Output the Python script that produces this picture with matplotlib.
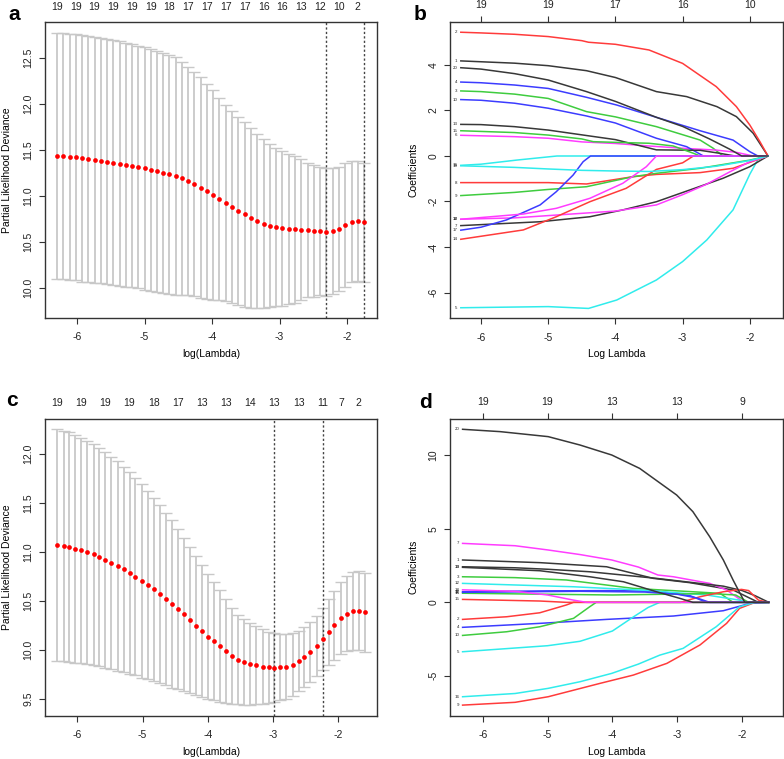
import numpy as np
import matplotlib
matplotlib.use("Agg")
import matplotlib.pyplot as plt

plt.rcParams["font.family"] = ["Liberation Sans", "DejaVu Sans"]
plt.rcParams["axes.unicode_minus"] = False

# ------------------------------------------------------------
#  panel a : cross-validation curve, first cohort
# ------------------------------------------------------------
a_loglam = [-6.30, -6.21, -6.11, -6.02, -5.93, -5.84, -5.74, -5.65, -5.56, -5.46,
            -5.37, -5.28, -5.19, -5.09, -5.00, -4.91, -4.81, -4.72, -4.63, -4.54,
            -4.44, -4.35, -4.26, -4.16, -4.07, -3.98, -3.89, -3.79, -3.70, -3.61,
            -3.51, -3.42, -3.33, -3.23, -3.14, -3.05, -2.96, -2.86, -2.77, -2.68,
            -2.58, -2.49, -2.40, -2.31, -2.21, -2.12, -2.03, -1.93, -1.84, -1.75]
a_cvm = [11.438, 11.435, 11.428, 11.420, 11.409, 11.402, 11.391, 11.384, 11.373, 11.362,
         11.351, 11.341, 11.330, 11.315, 11.301, 11.283, 11.268, 11.254, 11.236, 11.217,
         11.192, 11.163, 11.130, 11.091, 11.051, 11.011, 10.967, 10.924, 10.880, 10.841,
         10.801, 10.761, 10.728, 10.699, 10.678, 10.660, 10.649, 10.641, 10.638, 10.634,
         10.630, 10.623, 10.620, 10.609, 10.620, 10.645, 10.681, 10.721, 10.725, 10.714]
a_cvsd = [1.337, 1.337, 1.336, 1.337, 1.341, 1.337, 1.337, 1.333, 1.334, 1.330,
          1.330, 1.326, 1.322, 1.319, 1.319, 1.318, 1.312, 1.304, 1.300, 1.290,
          1.268, 1.243, 1.221, 1.199, 1.166, 1.138, 1.102, 1.069, 1.048, 1.021,
          1.007, 0.975, 0.946, 0.917, 0.884, 0.858, 0.840, 0.819, 0.797, 0.765,
          0.732, 0.718, 0.695, 0.692, 0.681, 0.674, 0.674, 0.656, 0.652, 0.648]
a_nzero_idx = [0, 3, 6, 9, 12, 15, 18, 21, 24, 27, 30, 33, 36, 39, 42, 45, 48]
a_nzero = ["19", "19", "19", "19", "19", "19", "18", "17", "17", "17", "17",
           "16", "16", "13", "12", "10", "2"]
a_vlines = [-2.31, -1.75]

# ------------------------------------------------------------
#  panel c : cross-validation curve, second cohort
# ------------------------------------------------------------
c_loglam = [-6.31, -6.21, -6.12, -6.03, -5.94, -5.85, -5.75, -5.66, -5.57, -5.48,
            -5.38, -5.29, -5.20, -5.11, -5.01, -4.92, -4.83, -4.74, -4.64, -4.55,
            -4.46, -4.37, -4.27, -4.18, -4.09, -4.00, -3.90, -3.81, -3.72, -3.63,
            -3.53, -3.44, -3.35, -3.26, -3.16, -3.07, -2.98, -2.89, -2.80, -2.70,
            -2.61, -2.52, -2.43, -2.33, -2.24, -2.15, -2.06, -1.96, -1.87, -1.78,
            -1.69, -1.59]
c_cvm = [11.071, 11.061, 11.051, 11.034, 11.017, 10.997, 10.976, 10.949, 10.918, 10.888,
         10.857, 10.823, 10.784, 10.747, 10.704, 10.663, 10.619, 10.571, 10.520, 10.469,
         10.418, 10.364, 10.309, 10.248, 10.194, 10.138, 10.088, 10.041, 9.990, 9.942,
         9.901, 9.874, 9.857, 9.847, 9.830, 9.823, 9.820, 9.823, 9.830, 9.850,
         9.891, 9.932, 9.983, 10.041, 10.109, 10.184, 10.252, 10.323, 10.371, 10.401,
         10.401, 10.384]
c_cvsd = [1.181, 1.177, 1.170, 1.163, 1.150, 1.139, 1.126, 1.112, 1.099, 1.085,
          1.068, 1.048, 1.032, 1.005, 0.986, 0.963, 0.935, 0.909, 0.881, 0.853,
          0.819, 0.782, 0.744, 0.708, 0.672, 0.638, 0.602, 0.571, 0.527, 0.490,
          0.456, 0.439, 0.422, 0.398, 0.384, 0.364, 0.350, 0.337, 0.330, 0.320,
          0.306, 0.306, 0.306, 0.306, 0.316, 0.333, 0.353, 0.367, 0.384, 0.398,
          0.405, 0.405]
c_nzero_idx = [0, 4, 8, 12, 16, 20, 24, 28, 32, 36, 40, 44, 47, 50]
c_nzero = ["19", "19", "19", "19", "18", "17", "13", "13", "14", "13", "13",
           "11", "7", "2"]
c_vlines = [-2.98, -2.24]

# ------------------------------------------------------------
#  panel b : coefficient paths, first cohort  (log lambda, coef)
# ------------------------------------------------------------
b_top_at = [-6, -5, -4, -3, -2]
b_top = ["19", "19", "17", "16", "10"]
b_v2 = [(-6.3, 5.44), (-6.0, 5.41), (-5.5, 5.35), (-5.0, 5.25), (-4.5, 5.07), (-4.4, 5.0),
        (-4.0, 4.91), (-3.5, 4.66), (-3.0, 4.07), (-2.5, 3.05), (-2.2, 2.17), (-2.0, 1.36),
        (-1.85, 0.63), (-1.73, 0.0)]
b_v1 = [(-6.3, 4.18), (-5.5, 4.08), (-5.0, 3.97), (-4.43, 3.75), (-4.0, 3.45), (-3.39, 2.83),
        (-2.94, 2.61), (-2.49, 2.17), (-2.2, 1.73), (-1.95, 1.0), (-1.73, 0.0)]
b_v20 = [(-6.3, 3.88), (-6.0, 3.82), (-5.5, 3.62), (-5.0, 3.34), (-4.43, 2.83), (-4.0, 2.40),
         (-3.39, 1.70), (-3.0, 1.30), (-2.6, 0.75), (-2.3, 0.30), (-2.12, 0.0), (-1.73, 0.0)]
b_v4 = [(-6.3, 3.25), (-6.0, 3.22), (-5.5, 3.12), (-5.0, 2.97), (-4.43, 2.58), (-3.98, 2.24),
        (-3.39, 1.70), (-2.74, 1.11), (-2.25, 0.70), (-2.0, 0.19), (-1.88, 0.0), (-1.73, 0.0)]
b_v3 = [(-6.3, 2.86), (-6.0, 2.83), (-5.5, 2.72), (-5.0, 2.53), (-4.43, 1.95), (-4.0, 1.72),
        (-3.39, 1.29), (-2.74, 0.70), (-2.55, 0.35), (-2.40, 0.0), (-1.73, 0.0)]
b_v10 = [(-6.3, 2.48), (-6.0, 2.45), (-5.5, 2.32), (-5.0, 2.10), (-4.43, 1.76), (-4.0, 1.45),
         (-3.39, 0.78), (-2.94, 0.41), (-2.69, 0.0), (-1.73, 0.0)]
b_v13 = [(-6.3, 1.39), (-6.0, 1.38), (-5.5, 1.29), (-5.0, 1.14), (-4.43, 0.90), (-4.0, 0.72),
         (-3.39, 0.27), (-2.74, 0.25), (-2.45, 0.12), (-2.22, 0.0), (-1.73, 0.0)]
b_v15 = [(-6.3, 1.11), (-5.5, 1.03), (-5.0, 0.92), (-4.5, 0.75), (-4.33, 0.63), (-4.0, 0.60),
         (-3.5, 0.56), (-3.14, 0.44), (-2.84, 0.12), (-2.74, 0.0), (-1.73, 0.0)]
b_v6 = [(-6.3, 0.91), (-5.5, 0.85), (-5.0, 0.78), (-4.5, 0.62), (-4.0, 0.55), (-3.5, 0.44),
        (-3.0, 0.34), (-2.5, 0.26), (-2.2, 0.16), (-1.95, 0.0), (-1.73, 0.0)]
b_v16 = [(-6.3, -0.41), (-6.0, -0.36), (-5.47, -0.18), (-4.87, 0.0), (-1.73, 0.0)]
b_v19 = [(-6.3, -0.43), (-5.5, -0.50), (-5.0, -0.57), (-4.5, -0.63), (-4.0, -0.66), (-3.5, -0.68),
         (-3.0, -0.60), (-2.5, -0.45), (-2.2, -0.30), (-2.0, -0.20), (-1.73, 0.0)]
b_v8 = [(-6.3, -1.17), (-5.0, -1.17), (-4.43, -1.23), (-3.74, -0.91), (-3.39, -0.81),
        (-2.74, -0.73), (-2.25, -0.54), (-1.73, 0.0)]
b_v9 = [(-6.3, -1.74), (-5.5, -1.60), (-5.0, -1.47), (-4.43, -1.35), (-3.74, -0.91),
        (-3.39, -0.76), (-2.74, -0.54), (-2.0, -0.18), (-1.73, 0.0)]
b_v17 = [(-6.3, -3.26), (-6.0, -3.13), (-5.62, -2.81), (-5.12, -2.15), (-4.88, -1.57),
         (-4.63, -0.84), (-4.48, -0.25), (-4.37, 0.0), (-1.73, 0.0)]
b_v18 = [(-6.3, -2.78), (-5.37, -2.55), (-4.88, -2.30), (-4.38, -1.86), (-3.89, -1.20),
         (-3.54, -0.47), (-3.39, 0.0), (-1.73, 0.0)]
b_v12 = [(-6.3, -2.78), (-5.5, -2.72), (-5.0, -2.62), (-4.5, -2.52), (-4.0, -2.42), (-3.39, -2.15),
         (-3.0, -1.70), (-2.65, -1.25), (-2.3, -0.70), (-2.0, -0.25), (-1.73, 0.0)]
b_v14 = [(-6.3, -3.66), (-5.37, -3.25), (-4.88, -2.67), (-4.38, -2.01), (-3.84, -1.42),
         (-3.39, -0.59), (-3.0, -0.30), (-2.84, 0.0), (-1.73, 0.0)]
b_v7 = [(-6.3, -3.06), (-5.12, -2.89), (-4.38, -2.67), (-3.89, -2.37), (-3.39, -2.01),
        (-2.89, -1.49), (-2.40, -0.98), (-2.0, -0.47), (-1.73, 0.0)]
b_v5 = [(-6.3, -6.67), (-5.0, -6.62), (-4.4, -6.70), (-3.98, -6.33), (-3.39, -5.45), (-3.0, -4.64),
        (-2.64, -3.69), (-2.25, -2.37), (-2.0, -0.80), (-1.85, 0.0), (-1.73, 0.0)]
b_labels = ["1", "2", "3", "4", "5", "6", "7", "8", "9", "10",
            "12", "13", "14", "15", "16", "17", "18", "19", "20"]
b_paths = [b_v1, b_v2, b_v3, b_v4, b_v5, b_v6, b_v7, b_v8, b_v9, b_v10,
           b_v12, b_v13, b_v14, b_v15, b_v16, b_v17, b_v18, b_v19, b_v20]

# ------------------------------------------------------------
#  panel d : coefficient paths, second cohort
# ------------------------------------------------------------
d_top_at = [-6, -5, -4, -3, -2]
d_top = ["19", "19", "13", "13", "9"]
d_v20 = [(-6.31, 11.77), (-5.73, 11.61), (-4.99, 11.27), (-4.5, 10.70), (-4.01, 10.02),
         (-3.58, 9.11), (-3.01, 7.30), (-2.76, 6.17), (-2.5, 4.46), (-2.29, 2.88),
         (-2.14, 1.52), (-1.96, 0.0), (-1.59, 0.0)]
d_v7 = [(-6.31, 4.01), (-5.5, 3.85), (-4.99, 3.56), (-4.5, 3.25), (-4.01, 2.88), (-3.6, 2.4),
        (-3.3, 1.86), (-3.06, 1.74), (-2.5, 1.29), (-2.24, 0.84), (-1.97, 0.0), (-1.59, 0.0)]
d_v1 = [(-6.31, 2.88), (-5.12, 2.70), (-4.09, 2.42), (-3.37, 1.63), (-2.81, 1.34),
        (-2.14, 0.84), (-1.75, 0.0), (-1.59, 0.0)]
d_v13 = [(-6.31, 2.42), (-5.5, 2.35), (-5.0, 2.25), (-4.35, 2.08), (-3.32, 1.63),
         (-2.29, 1.10), (-2.0, 0.80), (-1.8, 0.45), (-1.59, 0.0)]
d_v19 = [(-6.31, 2.38), (-5.12, 2.15), (-4.35, 1.74), (-3.83, 1.40), (-3.32, 0.72),
         (-2.96, 0.27), (-2.76, 0.0), (-1.59, 0.0)]
d_v3 = [(-6.31, 1.74), (-5.5, 1.68), (-4.71, 1.52), (-3.68, 0.95), (-2.76, 0.72),
        (-2.34, 0.61), (-2.14, 0.0), (-1.59, 0.0)]
d_v12 = [(-6.31, 1.29), (-4.6, 1.06), (-3.58, 0.84), (-2.55, 0.50), (-2.04, 0.15),
         (-1.91, 0.0), (-1.59, 0.0)]
d_v18 = [(-6.31, 0.85), (-5.5, 0.75), (-5.0, 0.50), (-4.6, 0.15), (-4.4, 0.0), (-1.59, 0.0)]
d_v11 = [(-6.31, 0.72), (-5.0, 0.78), (-4.0, 0.80), (-3.3, 0.75), (-2.8, 0.45), (-2.55, 0.0),
         (-1.59, 0.0)]
d_v14 = [(-6.31, 0.62), (-5.0, 0.55), (-4.0, 0.50), (-3.2, 0.55), (-2.5, 0.60), (-2.1, 0.50),
         (-1.9, 0.0), (-1.59, 0.0)]
d_v17 = [(-6.31, 0.68), (-4.5, 0.75), (-3.5, 0.70), (-3.0, 0.55), (-2.7, 0.30), (-2.5, 0.0),
         (-1.59, 0.0)]
d_v15 = [(-6.31, 0.20), (-5.12, 0.09), (-4.71, 0.0), (-2.95, 0.0), (-2.65, 0.38), (-2.29, 0.72),
         (-2.01, 0.88), (-1.9, 0.80), (-1.75, 0.15), (-1.6, 0.0)]
d_v2 = [(-6.31, -1.16), (-5.63, -0.98), (-5.12, -0.71), (-4.71, -0.18), (-4.6, 0.0), (-1.59, 0.0)]
d_v4 = [(-6.31, -1.70), (-5.12, -1.43), (-4.09, -1.16), (-3.06, -0.93), (-2.29, -0.57),
        (-1.88, -0.07), (-1.6, 0.0)]
d_v10 = [(-6.31, -2.25), (-5.63, -2.0), (-5.12, -1.66), (-4.6, -1.09), (-4.35, -0.30),
         (-4.25, 0.0), (-1.59, 0.0)]
d_v5 = [(-6.31, -3.36), (-5.0, -2.95), (-4.5, -2.65), (-4.0, -1.95), (-3.68, -1.0),
        (-3.45, -0.35), (-3.27, 0.0), (-1.59, 0.0)]
d_v16 = [(-6.31, -6.42), (-5.5, -6.2), (-4.99, -5.85), (-4.5, -5.4), (-4.01, -4.83),
         (-3.6, -4.2), (-3.27, -3.59), (-2.91, -3.13), (-2.4, -1.66), (-2.04, -0.30),
         (-1.8, 0.0), (-1.59, 0.0)]
d_v9 = [(-6.31, -6.99), (-5.5, -6.8), (-4.99, -6.42), (-4.19, -5.51), (-3.68, -4.95),
        (-3.16, -4.15), (-2.65, -2.90), (-2.24, -1.43), (-2.04, -0.41), (-1.8, 0.0), (-1.59, 0.0)]
d_labels = ["1", "2", "3", "4", "5", "7", "9", "10", "11", "12",
            "13", "14", "15", "16", "17", "18", "19", "20"]
d_paths = [d_v1, d_v2, d_v3, d_v4, d_v5, d_v7, d_v9, d_v10, d_v11, d_v12,
           d_v13, d_v14, d_v15, d_v16, d_v17, d_v18, d_v19, d_v20]

# line colours (R palette look)
K, R, G, B, C, M = "#383838", "#ff3b3b", "#3fcc3f", "#3c3cff", "#30ecec", "#ff3cff"
b_colors = [K, R, G, B, C, M, K, R, G, B, M, K, R, G, C, B, M, C, K]
d_colors = [K, R, G, B, C, M, R, G, B, C, K, G, R, C, B, M, K, K]

SPINE = "#333333"


def style_axes(ax):
    for s in ax.spines.values():
        s.set_color(SPINE)
        s.set_linewidth(1.0)
    ax.tick_params(direction="out", length=4.3, width=0.8, color=SPINE,
                   labelsize=7.5, labelcolor="#222222")
    ax.tick_params(axis="x", pad=6)
    ax.tick_params(axis="y", pad=4)
    for lab in ax.get_yticklabels():
        lab.set_rotation(90)
        lab.set_va("center")


def cv_panel(ax, x, m, sd, vlines, top_idx, top_lab, xlim, ylim, yticks):
    x = np.asarray(x)
    m = np.asarray(m)
    sd = np.asarray(sd)
    ax.errorbar(x, m, yerr=sd, fmt="none", ecolor="#c8c8c8", elinewidth=1.3,
                capsize=4.5, capthick=1.0, zorder=1)
    ax.plot(x, m, "o", color="#ff0000", ms=3.4, mec="none", zorder=3)
    for v in vlines:
        ax.axvline(v, color="#444444", lw=1.0, ls=(0, (1.6, 1.6)), zorder=2)
    ax.set_xlim(*xlim)
    ax.set_ylim(*ylim)
    ax.set_xticks([-6, -5, -4, -3, -2])
    ax.set_yticks(yticks)
    ax.set_yticklabels(["%.1f" % t for t in yticks])
    style_axes(ax)
    ax.set_xlabel("log(Lambda)", fontsize=7.5)
    ax.set_ylabel("Partial Likelihood Deviance", fontsize=7.5)
    ax.xaxis.set_label_coords(0.5, -0.105)
    ax.yaxis.set_label_coords(-0.098, 0.5)
    top = ax.secondary_xaxis("top")
    top.set_xticks(x[top_idx], top_lab)
    top.tick_params(length=0, pad=7.5, labelsize=7.5, labelcolor="#222222")
    top.spines["top"].set_visible(False)


def coef_panel(ax, paths, labels, colors, top_at, top_lab, xlim, ylim, yticks):
    for p, lab, col in zip(paths, labels, colors):
        xs = [q[0] for q in p]
        ys = [q[1] for q in p]
        ax.plot(xs, ys, color=col, lw=1.1, solid_joinstyle="round")
        ax.text(xs[0] - 0.05, ys[0], lab, fontsize=3.2, ha="right", va="center",
                color="#222222")
    ax.set_xlim(*xlim)
    ax.set_ylim(*ylim)
    ax.set_xticks([-6, -5, -4, -3, -2])
    ax.set_yticks(yticks)
    style_axes(ax)
    ax.set_xlabel("Log Lambda", fontsize=7.5)
    ax.set_ylabel("Coefficients", fontsize=7.5)
    ax.xaxis.set_label_coords(0.5, -0.105)
    ax.yaxis.set_label_coords(-0.095, 0.5)
    top = ax.secondary_xaxis("top")
    top.set_xticks(top_at, top_lab)
    top.tick_params(direction="out", length=4.3, width=0.8, color=SPINE, pad=4,
                    labelsize=7.5, labelcolor="#222222")
    top.spines["top"].set_visible(False)


fig = plt.figure(figsize=(7.84, 7.59), dpi=100)
W, H = 784.0, 759.0


def box(x0, y0, x1, y1):
    return [x0 / W, 1 - y1 / H, (x1 - x0) / W, (y1 - y0) / H]


ax_a = fig.add_axes(box(45, 22, 377, 318))
ax_b = fig.add_axes(box(450, 22, 782.5, 318.3))
ax_c = fig.add_axes(box(45, 418.7, 376.7, 715.7))
ax_d = fig.add_axes(box(450, 418.7, 782.5, 715.7))

cv_panel(ax_a, a_loglam, a_cvm, a_cvsd, a_vlines, a_nzero_idx, a_nzero,
         (-6.474, -1.556), (9.674, 12.891), [10.0, 10.5, 11.0, 11.5, 12.0, 12.5])
cv_panel(ax_c, c_loglam, c_cvm, c_cvsd, c_vlines, c_nzero_idx, c_nzero,
         (-6.495, -1.412), (9.330, 12.360), [9.5, 10.0, 10.5, 11.0, 11.5, 12.0])
coef_panel(ax_b, b_paths, b_labels, b_colors, b_top_at, b_top,
           (-6.461, -1.514), (-7.134, 5.890), [-6, -4, -2, 0, 2, 4])
coef_panel(ax_d, d_paths, d_labels, d_colors, d_top_at, d_top,
           (-6.504, -1.378), (-7.71, 12.49), [-5, 0, 5, 10])

for letter, px, py in [("a", 14, 15), ("b", 420, 14), ("c", 12, 400), ("d", 425, 402)]:
    fig.text(px / W, 1 - py / H, letter, fontsize=15, fontweight="bold",
             ha="center", va="center")

fig.savefig("out.png", dpi=100)
